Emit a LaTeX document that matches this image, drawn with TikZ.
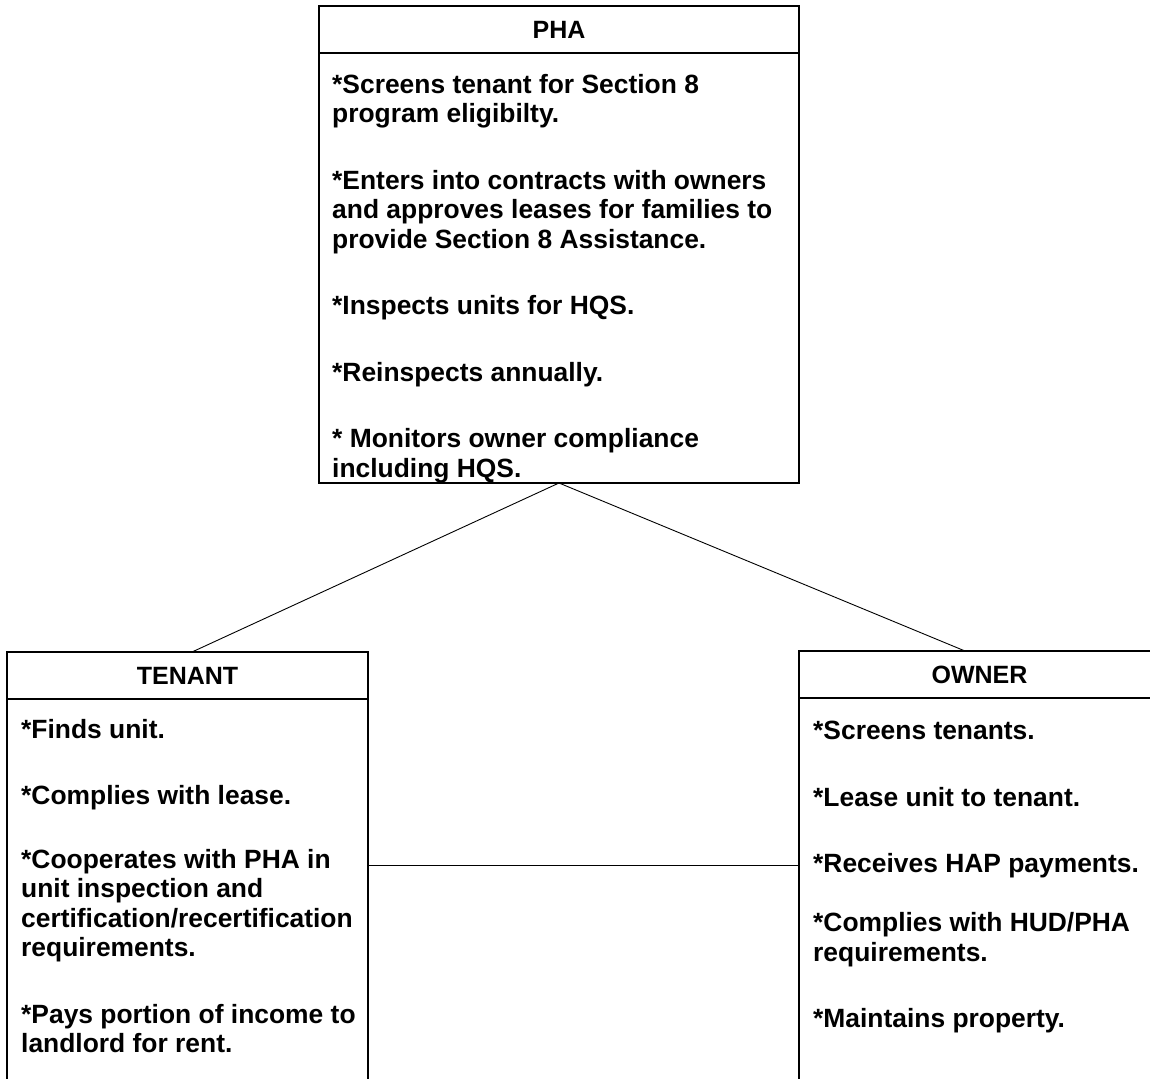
\documentclass[tikz,border=0pt]{standalone}
\usepackage{fontspec}
\setmainfont{Liberation Sans}
\usetikzlibrary{positioning}

\tikzset{
  head/.style={draw, line width=1.2pt, outer sep=0pt, inner sep=0pt,
    minimum width=361pt, minimum height=47pt,
    font=\fontsize{25}{29.5}\selectfont\bfseries},
  bodybox/.style={draw, line width=1.2pt, outer sep=0pt, inner sep=0pt,
    minimum width=361pt, minimum height=420pt},
  duties/.style={anchor=north west, align=left, inner sep=0pt,
    font=\fontsize{26.4}{29.5}\selectfont\bfseries},
  link/.style={line width=0.9pt}
}

\begin{document}
\begin{tikzpicture}[x=1pt, y=-1pt]
\path [fill=white, use as bounding box] (0,0) rectangle (1150,1078);
\clip (0,0) rectangle (1150,1078);

\node [head, minimum width=480pt] (phahead) at (559,29.5) {PHA};
\node [bodybox, minimum width=480pt, minimum height=430pt, below=0pt of phahead] (phabody) {};

\node [head] (tenanthead) at (187.5,675.5) {TENANT};
\node [bodybox, below=0pt of tenanthead] (tenantbody) {};

\node [head] (ownerhead) at (979.5,674.5) {OWNER};
\node [bodybox, below=0pt of ownerhead] (ownerbody) {};

\node [duties] (phaduties) at (332,74) {*Screens tenant for Section 8\\
  program eligibilty.\\[37pt]
  *Enters into contracts with owners\\
  and approves leases for families to\\
  provide Section 8 Assistance.\\[37pt]
  *Inspects units for HQS.\\[37pt]
  *Reinspects annually.\\[37pt]
  * Monitors owner compliance\\
  including HQS.};

\node [duties] (tenantduties) at (21,719) {*Finds unit.\\[37pt]
  *Complies with lease.\\[34pt]
  *Cooperates with PHA in\\
  unit inspection and\\
  certification/recertification\\
  requirements.\\[37pt]
  *Pays portion of income to\\
  landlord for rent.};

\node [duties] (ownerduties) at (813,721) {*Screens tenants.\\[37pt]
  *Lease unit to tenant.\\[37pt]
  *Receives HAP payments.\\[29.5pt]
  *Complies with HUD/PHA\\
  requirements.\\[37pt]
  *Maintains property.};

\draw [link] (phabody.south) -- ([xshift=4.5pt]tenanthead.north);
\draw [link] (phabody.south) -- ([xshift=-14.5pt]ownerhead.north);
\draw [link] ([yshift=44pt]tenantbody.east) -- ([yshift=44pt]tenantbody.east -| ownerbody.west);
\end{tikzpicture}
\end{document}
